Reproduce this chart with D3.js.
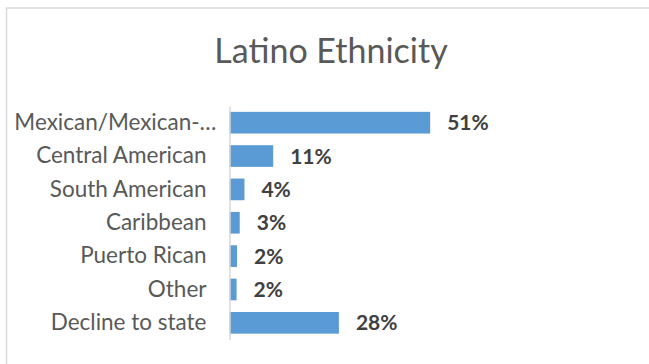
<!DOCTYPE html>
<html>
<head>
<meta charset="utf-8">
<script src="https://cdn.jsdelivr.net/npm/d3@7"></script>
<style>
  html, body { margin: 0; background: #fff; overflow: hidden; }
  svg { display: block; }
  text { font-family: Lato, 'Open Sans', sans-serif; }
</style>
</head>
<body>
<div id="chart"></div>
<script>
// Data

var categories = [
  'Mexican/Mexican-…',
  'Central American',
  'South American',
  'Caribbean',
  'Puerto Rican',
  'Other',
  'Decline to state'
]

var shares = [0.51, 0.111, 0.038, 0.026, 0.019, 0.018, 0.278]

var title = 'Latino Ethnicity'

var datapoints = categories.map((c, i) => ({ category: c, share: shares[i] }))

var width = 649
var height = 364

var svg = d3
  .select('#chart')
  .append('svg')
  .attr('width', width)
  .attr('height', height)

// chart frame: only the top and left edges are in view
svg
  .append('path')
  .attr('d', 'M6.5,' + height + 'V8H' + width)
  .attr('fill', 'none')
  .attr('stroke', '#d9d9d9')
  .attr('stroke-width', 1.5)

// Scales

var xPositionScale = d3.scaleLinear().domain([0, 0.6]).range([229.5, 465.6])

var yPositionScale = d3
  .scaleBand()
  .domain(categories)
  .range([106, 339.5])
  .paddingInner(0.35)
  .paddingOuter(0.175)

// Title

svg
  .append('text')
  .text(title)
  .attr('x', 331)
  .attr('y', 63)
  .attr('text-anchor', 'middle')
  .attr('font-size', 34)
  .attr('fill', '#595959')

// Bars

svg
  .selectAll('.bar')
  .data(datapoints)
  .enter()
  .append('rect')
  .attr('class', 'bar')
  .attr('x', xPositionScale(0))
  .attr('y', d => yPositionScale(d.category))
  .attr('width', d => xPositionScale(d.share) - xPositionScale(0))
  .attr('height', yPositionScale.bandwidth())
  .attr('fill', '#5b9bd5')

// Value labels

var pct = d3.format('.0%')

svg
  .selectAll('.value-label')
  .data(datapoints)
  .enter()
  .append('text')
  .attr('class', 'value-label')
  .text(d => pct(d.share))
  .attr('x', d => xPositionScale(d.share) + 17)
  .attr('y', d => yPositionScale(d.category) + yPositionScale.bandwidth() / 2)
  .attr('dy', '0.36em')
  .attr('font-size', 21)
  .attr('font-weight', 'bold')
  .attr('fill', '#404040')

// Category axis

var yAxis = d3.axisLeft(yPositionScale).tickSize(0).tickPadding(23)

var axis = svg
  .append('g')
  .attr('class', 'axis y-axis')
  .attr('transform', 'translate(' + xPositionScale(0) + ',0)')
  .call(yAxis)

axis.select('.domain').attr('stroke', '#d9d9d9').attr('stroke-width', 1.5)

axis
  .selectAll('text')
  .attr('font-size', 22.5)
  .attr('fill', '#595959')
  .attr('dx', (d, i) => (i === 0 ? 10 : 0))
</script>
</body>
</html>
